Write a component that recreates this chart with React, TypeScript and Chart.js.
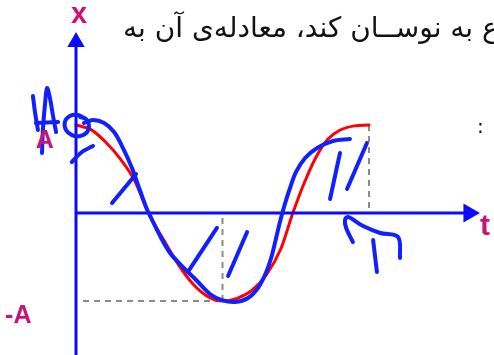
import React, { useEffect, useRef } from "react";
import { Chart, registerables } from "chart.js";

Chart.register(...registerables);

// time in units of the period T, displacement in units of amplitude A
const RED_T = [0, 0.05, 0.1, 0.15, 0.2, 0.25, 0.3, 0.35, 0.4, 0.45, 0.5, 0.55, 0.6, 0.65, 0.7, 0.74, 0.78, 0.82, 0.86, 0.9, 0.95, 1.0];
const RED_X = [1.0, 0.95, 0.81, 0.62, 0.37, -0.02, -0.31, -0.59, -0.81, -0.95, -1.0, -0.97, -0.88, -0.7, -0.4, 0.0, 0.35, 0.64, 0.84, 0.94, 0.99, 1.0];

// hand-drawn pen strokes (blue)
const PEN_CURVE_T = [0.027, 0.058, 0.096, 0.13, 0.16, 0.191, 0.218, 0.239, 0.253, 0.287, 0.321, 0.365, 0.41, 0.457, 0.498, 0.543, 0.587, 0.621, 0.645, 0.666, 0.683, 0.696, 0.71, 0.727, 0.751, 0.782, 0.823, 0.877, 0.935];
const PEN_CURVE_X = [1.023, 1.057, 1.023, 0.92, 0.739, 0.511, 0.261, 0.068, -0.034, -0.261, -0.455, -0.614, -0.761, -0.92, -0.989, -1.011, -0.966, -0.852, -0.705, -0.511, -0.284, -0.102, 0.068, 0.25, 0.466, 0.625, 0.739, 0.818, 0.841];
const PEN_LOOP_T = [0.027, 0.007, -0.021, -0.038, -0.034, -0.014, 0.014, 0.038, 0.044, 0.034, 0.014];
const PEN_LOOP_X = [1.08, 1.114, 1.102, 1.034, 0.943, 0.886, 0.875, 0.92, 1.0, 1.068, 1.091];
const PEN_DASH_T = [-0.014, 0.02, 0.058];
const PEN_DASH_X = [0.58, 0.693, 0.761];
const HATCH1_T = [0.123, 0.205];
const HATCH1_X = [0.114, 0.443];
const HATCH2_T = [0.382, 0.481];
const HATCH2_X = [-0.67, -0.17];
const HATCH3_T = [0.519, 0.584];
const HATCH3_X = [-0.716, -0.216];
const HATCH4_T = [0.867, 0.901];
const HATCH4_X = [0.159, 0.682];
const HATCH5_T = [0.925, 0.993];
const HATCH5_X = [0.273, 0.795];
const PEN_T_HOOK_T = [0.945, 0.922, 0.918, 0.928, 0.98, 1.038, 1.099, 1.106];
const PEN_T_HOOK_X = [-0.33, -0.17, -0.08, -0.045, -0.148, -0.227, -0.273, -0.511];
const PEN_T_STEM_T = [1.014, 1.027];
const PEN_T_STEM_X = [-0.307, -0.67];
const PEN_A1_T = [-0.116, -0.113, -0.106, -0.099, -0.089, -0.079, -0.068];
const PEN_A1_X = [0.682, 0.943, 1.227, 1.42, 1.307, 1.114, 0.92];
const PEN_A2_T = [-0.147, -0.14, -0.13];
const PEN_A2_X = [1.33, 1.148, 0.943];
const PEN_A3_T = [-0.137, -0.061];
const PEN_A3_X = [1.023, 1.034];

// reference lines
const PERIOD = 1;
const HALF_PERIOD = 0.5;
const AMPLITUDE = 1;

// axes
const T_AXIS_END = 1.33;
const T_ARROW = 1.341;
const X_AXIS_END = 1.909;
const X_ARROW = 1.943;
const X_AXIS_START = -1.62;

const T_MIN = -0.2594;
const T_MAX = 1.4266;
const X_MIN = -1.6136;
const X_MAX = 2.4205;

const LABELS = [
  { text: "x", t: -0.017, x: 2.159, size: 29 },
  { text: "t", t: 1.379, x: -0.25, size: 30 },
  { text: "A", t: -0.137, x: 0.739, size: 25 },
  { text: "-A", t: -0.242, x: -1.25, size: 25 },
];
const PERSIAN_TEXT = "شروع به نوســان کند، معادله‌ی آن به";

const BLUE = "#0a0aff";
const PEN = "#1020ff";
const RED = "#ff0000";
const MAGENTA = "#c8147a";

const pts = (ts: number[], xs: number[]) => ts.map((t, i) => ({ x: t, y: xs[i] }));

const line = (data: any[], color: string, width: number, order: number, extra: any = {}) => ({
  type: "line" as const,
  data,
  borderColor: color,
  borderWidth: width,
  pointRadius: 0,
  fill: false,
  borderCapStyle: "round",
  borderJoinStyle: "round",
  order,
  ...extra,
});

const decor = {
  id: "decor",
  beforeDraw(chart: any) {
    const { ctx, width, height } = chart;
    ctx.save();
    ctx.fillStyle = "#ffffff";
    ctx.fillRect(0, 0, width, height);
    ctx.fillStyle = "#111111";
    ctx.font = '28px "DejaVu Sans"';
    ctx.direction = "rtl";
    ctx.textAlign = "left";
    ctx.textBaseline = "alphabetic";
    ctx.fillText(PERSIAN_TEXT, 123, 37);
    ctx.direction = "ltr";
    ctx.font = '20px "DejaVu Sans"';
    ctx.fillText(":", 477, 133);
    ctx.restore();
  },
  afterDatasetsDraw(chart: any) {
    const { ctx } = chart;
    const sx = chart.scales.x;
    const sy = chart.scales.y;
    ctx.save();
    ctx.fillStyle = MAGENTA;
    ctx.textAlign = "left";
    ctx.textBaseline = "alphabetic";
    LABELS.forEach((l) => {
      ctx.font = `bold ${l.size}px "Liberation Sans", Arial, sans-serif`;
      ctx.fillText(l.text, sx.getPixelForValue(l.t), sy.getPixelForValue(l.x));
    });
    ctx.restore();
  },
};

export default function App() {
  const ref = useRef<HTMLCanvasElement>(null);
  useEffect(() => {
    if (!ref.current) return;
    const penOpts = (d: any[]) => line(d, PEN, 4, 1, { tension: 0.35 });
    const chart = new Chart(ref.current, {
      type: "line",
      data: {
        datasets: [
          line([{ x: 0.024, y: -AMPLITUDE }, { x: HALF_PERIOD, y: -AMPLITUDE }], "#8a8a8a", 2, 10, { borderDash: [6, 5], borderCapStyle: "butt" }),
          line([{ x: HALF_PERIOD, y: -AMPLITUDE }, { x: HALF_PERIOD, y: 0 }], "#8a8a8a", 2, 10, { borderDash: [6, 5], borderCapStyle: "butt" }),
          line([{ x: PERIOD, y: AMPLITUDE }, { x: PERIOD, y: 0 }], "#8a8a8a", 2, 10, { borderDash: [6, 5], borderCapStyle: "butt" }),
          line(pts(RED_T, RED_X), RED, 3, 8, { tension: 0.4, cubicInterpolationMode: "monotone" }),
          line([{ x: 0, y: X_AXIS_START }, { x: 0, y: X_AXIS_END }], BLUE, 3, 5, { borderCapStyle: "butt" }),
          line([{ x: 0, y: 0 }, { x: T_AXIS_END, y: 0 }], BLUE, 3, 5, { borderCapStyle: "butt" }),
          {
            type: "scatter" as const,
            data: [{ x: 0, y: X_ARROW }],
            pointStyle: "triangle",
            pointRadius: 10,
            pointRotation: 0,
            backgroundColor: BLUE,
            borderWidth: 0,
            order: 4,
          },
          {
            type: "scatter" as const,
            data: [{ x: T_ARROW, y: 0 }],
            pointStyle: "triangle",
            pointRadius: 11,
            pointRotation: 90,
            backgroundColor: BLUE,
            borderWidth: 0,
            order: 4,
          },
          penOpts(pts(PEN_CURVE_T, PEN_CURVE_X)),
          penOpts(pts(PEN_LOOP_T, PEN_LOOP_X)),
          penOpts(pts(PEN_DASH_T, PEN_DASH_X)),
          penOpts(pts(HATCH1_T, HATCH1_X)),
          penOpts(pts(HATCH2_T, HATCH2_X)),
          penOpts(pts(HATCH3_T, HATCH3_X)),
          penOpts(pts(HATCH4_T, HATCH4_X)),
          penOpts(pts(HATCH5_T, HATCH5_X)),
          penOpts(pts(PEN_T_HOOK_T, PEN_T_HOOK_X)),
          penOpts(pts(PEN_T_STEM_T, PEN_T_STEM_X)),
          penOpts(pts(PEN_A1_T, PEN_A1_X)),
          penOpts(pts(PEN_A2_T, PEN_A2_X)),
          penOpts(pts(PEN_A3_T, PEN_A3_X)),
        ] as any,
      },
      options: {
        animation: false,
        responsive: false,
        maintainAspectRatio: false,
        layout: { padding: 0, autoPadding: false } as any,
        plugins: { legend: { display: false }, tooltip: { enabled: false } },
        events: [],
        scales: {
          x: { type: "linear", display: false, min: T_MIN, max: T_MAX },
          y: { type: "linear", display: false, min: X_MIN, max: X_MAX },
        },
      },
      plugins: [decor],
    });
    return () => chart.destroy();
  }, []);
  return (
    <canvas
      ref={ref}
      width={494}
      height={355}
      style={{ position: "absolute", left: 0, top: 0, width: 494, height: 355 }}
    />
  );
}
